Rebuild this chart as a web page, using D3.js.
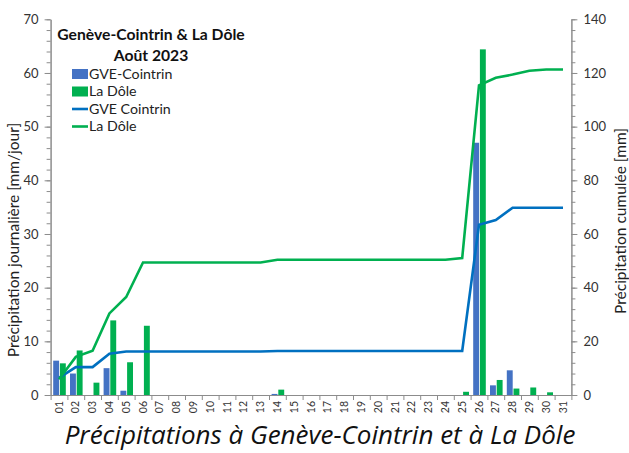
<!DOCTYPE html>
<html>
<head>
<meta charset="utf-8">
<script src="https://cdn.jsdelivr.net/npm/d3@7/dist/d3.min.js"></script>
<style>
  body { margin: 0; background: #fff; }
  text { font-family: Lato, "Noto Sans", sans-serif; }
</style>
</head>
<body>
<script>
// jours du mois d'août
var days = ["01","02","03","04","05","06","07","08","09","10","11","12","13","14","15","16",
            "17","18","19","20","21","22","23","24","25","26","27","28","29","30","31"];

// précipitation journalière [mm/jour]
var gveDaily  = [6.4, 4.0, 0, 5.0, 0.8, 0, 0, 0, 0, 0, 0, 0, 0, 0.2, 0, 0,
                 0, 0, 0, 0, 0, 0, 0, 0, 0, 47.0, 1.8, 4.6, 0, 0, 0];
var doleDaily = [5.9, 8.3, 2.3, 13.9, 6.1, 12.9, 0, 0, 0, 0, 0, 0, 0, 1.0, 0, 0,
                 0, 0, 0, 0, 0, 0, 0, 0, 0.6, 64.4, 2.8, 1.2, 1.4, 0.5, 0];

// précipitation cumulée [mm]
var gveCumul  = [6.4, 10.4, 10.4, 15.4, 16.2, 16.2, 16.2, 16.2, 16.2, 16.2, 16.2, 16.2, 16.2, 16.4, 16.4, 16.4,
                 16.4, 16.4, 16.4, 16.4, 16.4, 16.4, 16.4, 16.4, 16.4, 63.4, 65.2, 69.8, 69.8, 69.8, 69.8];
var doleCumul = [5.9, 14.2, 16.5, 30.4, 36.5, 49.4, 49.4, 49.4, 49.4, 49.4, 49.4, 49.4, 49.4, 50.4, 50.4, 50.4,
                 50.4, 50.4, 50.4, 50.4, 50.4, 50.4, 50.4, 50.4, 51.0, 115.4, 118.2, 119.4, 120.8, 121.3, 121.3];

var leftTicks  = [0, 10, 20, 30, 40, 50, 60, 70];
var rightTicks = [0, 20, 40, 60, 80, 100, 120, 140];

var colGveBar = "#4472c4", colDole = "#00b050", colGveLine = "#0070c0";

function draw() {
    var W = 629, H = 453;
    var mLeft = 50.6, mRight = 571.4, mTop = 19.3, mBottom = 395;

    var svg = d3.select("body").append("svg")
        .attr("width", W).attr("height", H);

    var x = d3.scaleBand().domain(days).range([mLeft, mRight]).padding(0);
    var xs = d3.scaleBand().domain(["gve", "dole"]).range([2.6, 15.2]).paddingInner(0.12);
    var yL = d3.scaleLinear().domain([0, 70]).range([mBottom, mTop]);
    var yR = d3.scaleLinear().domain([0, 140]).range([mBottom, mTop]);
    // bords des catégories (pour les graduations)
    var xEdge = d3.scaleLinear().domain([0, days.length]).range([mLeft, mRight]);

    // barres
    svg.append("g").selectAll("rect")
        .data(gveDaily).enter().append("rect")
        .attr("x", function(d, i) { return x(days[i]) + xs("gve"); })
        .attr("y", function(d) { return yL(d); })
        .attr("width", xs.bandwidth())
        .attr("height", function(d) { return yL(0) - yL(d); })
        .attr("fill", colGveBar);

    svg.append("g").selectAll("rect")
        .data(doleDaily).enter().append("rect")
        .attr("x", function(d, i) { return x(days[i]) + xs("dole"); })
        .attr("y", function(d) { return yL(d); })
        .attr("width", xs.bandwidth())
        .attr("height", function(d) { return yL(0) - yL(d); })
        .attr("fill", colDole);

    // lignes cumulées
    var line = d3.line()
        .x(function(d, i) { return x(days[i]) + x.bandwidth() / 2; })
        .y(function(d) { return yR(d); });

    svg.append("path").datum(gveCumul)
        .attr("d", line).attr("fill", "none")
        .attr("stroke", colGveLine).attr("stroke-width", 2.6);
    svg.append("path").datum(doleCumul)
        .attr("d", line).attr("fill", "none")
        .attr("stroke", colDole).attr("stroke-width", 2.6);

    // axes
    function styleAxis(g) {
        g.selectAll("path.domain").attr("stroke", "#8c8c8c");
        g.selectAll(".tick line").attr("stroke", "#8c8c8c");
        g.selectAll(".tick text").attr("fill", "#333").style("font-size", "13px");
    }

    svg.append("g").attr("transform", "translate(" + mLeft + ",0)")
        .call(d3.axisLeft(yL).tickValues(d3.range(0, 71, 2)).tickFormat("").tickSize(4).tickSizeOuter(0))
        .call(styleAxis);
    svg.append("g").attr("transform", "translate(" + mLeft + ",0)")
        .call(d3.axisLeft(yL).tickValues(leftTicks).tickSize(6).tickPadding(6).tickSizeOuter(0))
        .call(styleAxis);

    svg.append("g").attr("transform", "translate(" + mRight + ",0)")
        .call(d3.axisRight(yR).tickValues(d3.range(0, 141, 4)).tickFormat("").tickSize(4).tickSizeOuter(0))
        .call(styleAxis);
    svg.append("g").attr("transform", "translate(" + mRight + ",0)")
        .call(d3.axisRight(yR).tickValues(rightTicks).tickSize(6).tickPadding(6).tickSizeOuter(0))
        .call(styleAxis);

    svg.append("g").attr("transform", "translate(0," + mBottom + ")")
        .call(d3.axisBottom(xEdge).tickValues(d3.range(0, days.length + 1)).tickFormat("").tickSize(5).tickSizeOuter(0))
        .call(styleAxis);

    var xb = svg.append("g").attr("transform", "translate(0," + mBottom + ")")
        .call(d3.axisBottom(x).tickSize(0).tickPadding(0));
    xb.select("path.domain").remove();
    xb.selectAll(".tick text")
        .attr("transform", "rotate(-90)")
        .attr("text-anchor", "end")
        .attr("x", -6).attr("y", 0).attr("dy", "0.35em")
        .attr("fill", "#333").style("font-size", "10.5px");

    // titres des axes
    svg.append("text")
        .attr("transform", "translate(14," + 240 + ") rotate(-90)")
        .attr("text-anchor", "middle").attr("dy", "0.35em")
        .style("font-size", "15.5px").attr("fill", "#222")
        .text("Précipitation journalière [mm/jour]");
    svg.append("text")
        .attr("transform", "translate(621," + 221 + ") rotate(-90)")
        .attr("text-anchor", "middle").attr("dy", "0.35em")
        .style("font-size", "15.5px").attr("fill", "#222")
        .text("Précipitation cumulée [mm]");

    // titre
    svg.append("text").attr("x", 151).attr("y", 40)
        .attr("text-anchor", "middle").style("font-size", "15.7px").style("font-weight", "bold")
        .attr("fill", "#111").text("Genève-Cointrin & La Dôle");
    svg.append("text").attr("x", 151).attr("y", 61)
        .attr("text-anchor", "middle").style("font-size", "15.7px").style("font-weight", "bold")
        .attr("fill", "#111").text("Août 2023");

    // légende
    var legend = [
        {label: "GVE-Cointrin", color: colGveBar, type: "bar"},
        {label: "La Dôle", color: colDole, type: "bar"},
        {label: "GVE Cointrin", color: colGveLine, type: "line"},
        {label: "La Dôle", color: colDole, type: "line"}
    ];
    var lg = svg.append("g").selectAll("g").data(legend).enter().append("g")
        .attr("transform", function(d, i) { return "translate(72," + (74 + i * 17.5) + ")"; });
    lg.filter(function(d) { return d.type == "bar"; }).append("rect")
        .attr("x", 0).attr("y", -5).attr("width", 16).attr("height", 10)
        .attr("fill", function(d) { return d.color; });
    lg.filter(function(d) { return d.type == "line"; }).append("line")
        .attr("x1", 0).attr("x2", 16).attr("y1", 0).attr("y2", 0)
        .attr("stroke", function(d) { return d.color; }).attr("stroke-width", 2.6);
    lg.append("text").attr("x", 17).attr("dy", "0.35em")
        .style("font-size", "14.2px").attr("fill", "#222")
        .text(function(d) { return d.label; });

    // légende de la figure
    svg.append("text").attr("x", 320).attr("y", 444)
        .attr("text-anchor", "middle")
        .style("font-family", "'Open Sans', sans-serif")
        .style("font-style", "italic").style("font-size", "26px").attr("fill", "#111")
        .text("Précipitations à Genève-Cointrin et à La Dôle");
}

draw();
</script>
</body>
</html>
